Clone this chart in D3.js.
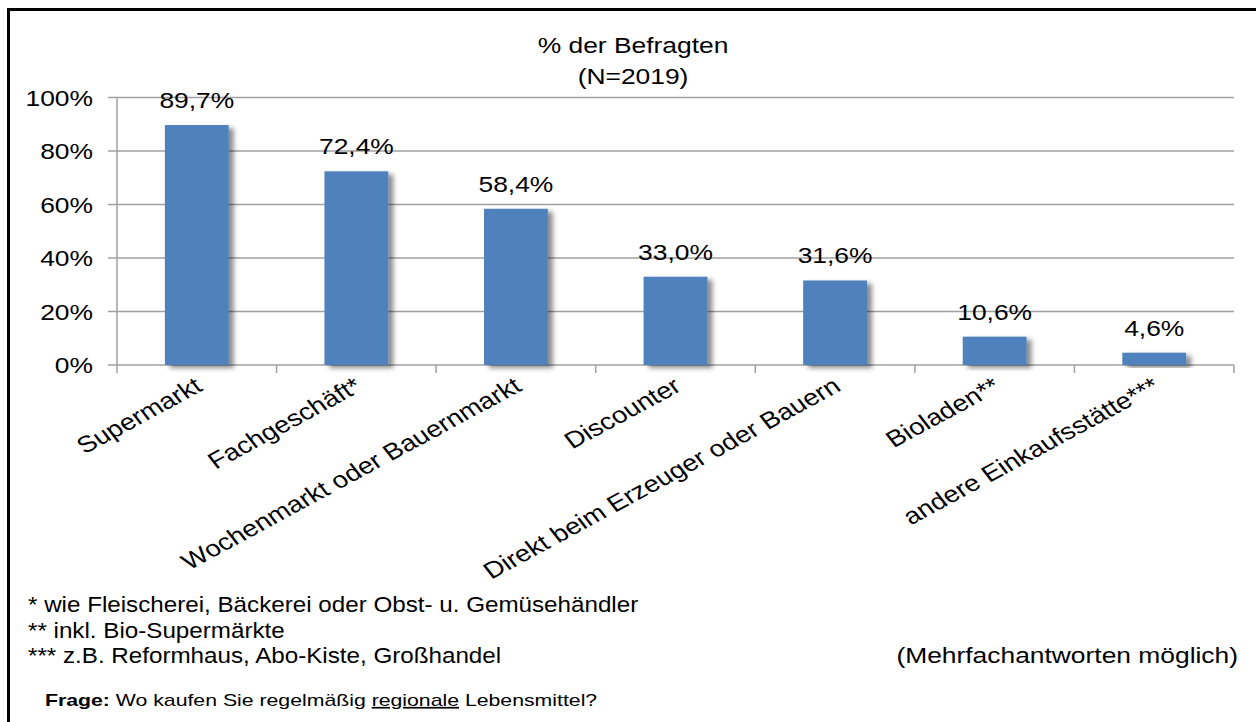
<!DOCTYPE html>
<html>
<head>
<meta charset="utf-8">
<script src="https://cdn.jsdelivr.net/npm/d3@7"></script>
<style>
  body { margin: 0; background: #fff; }
  text { font-family: "Liberation Sans", Arial, sans-serif; fill: #000; }
</style>
</head>
<body>
<div id="chart"></div>
<script>
var categories = ["Supermarkt", "Fachgeschäft*", "Wochenmarkt oder Bauernmarkt", "Discounter",
                  "Direkt beim Erzeuger oder Bauern", "Bioladen**", "andere Einkaufsstätte***"];
var values = [89.7, 72.4, 58.4, 33.0, 31.6, 10.6, 4.6];
var yTicks = [0, 20, 40, 60, 80, 100];
var titleLines = ["% der Befragten", "(N=2019)"];
var footnotes = ["* wie Fleischerei, Bäckerei oder Obst- u. Gemüsehändler",
                 "** inkl. Bio-Supermärkte",
                 "*** z.B. Reformhaus, Abo-Kiste, Großhandel"];

var fw = 1256, fh = 722;
var sx = 1.2; // picture is stretched sideways

var svg = d3.select("#chart").append("svg")
    .attr("width", fw)
    .attr("height", fh);

var defs = svg.append("defs");
var sh = defs.append("filter").attr("id", "shadow")
    .attr("x", "-20%").attr("y", "-20%").attr("width", "150%").attr("height", "140%");
sh.append("feDropShadow")
    .attr("dx", 5).attr("dy", 3)
    .attr("stdDeviation", 2.5)
    .attr("flood-color", "#000")
    .attr("flood-opacity", 0.45);

// frame
svg.append("rect")
    .attr("x", 8.5).attr("y", 9.5)
    .attr("width", 1262).attr("height", 730)
    .attr("fill", "none")
    .attr("stroke", "#000")
    .attr("stroke-width", 3);

var x = d3.scaleBand()
    .domain(categories)
    .range([117, 1234])
    .paddingInner(0.6)
    .paddingOuter(0.3);

var y = d3.scaleLinear()
    .domain([0, 100])
    .range([365, 97.5]);

var de = d3.formatLocale({ decimal: ",", thousands: ".", grouping: [3], currency: ["", "€"] });
var fmt = de.format(".1f");

function stext(px, py, str, size, anchor, kx) {
  return svg.append("text")
      .attr("transform", "translate(" + px + "," + py + ") scale(" + (kx || sx) + ",1)")
      .attr("text-anchor", anchor || "start")
      .style("font-size", size + "px")
      .text(str);
}

// gridlines
svg.append("g").selectAll("line")
    .data(yTicks)
    .enter().append("line")
    .attr("x1", 108).attr("x2", 1234)
    .attr("y1", function(d) { return y(d); })
    .attr("y2", function(d) { return y(d); })
    .attr("stroke", "#a0a0a0")
    .attr("stroke-width", 1.5);

// y axis line
svg.append("line")
    .attr("x1", 117).attr("x2", 117)
    .attr("y1", y(100)).attr("y2", y(0))
    .attr("stroke", "#a0a0a0")
    .attr("stroke-width", 1.5);

// x ticks at category borders
var borders = categories.map(function(c) { return x(c) - x.step() * x.paddingOuter(); });
borders.push(1234);
svg.append("g").selectAll("line")
    .data(borders)
    .enter().append("line")
    .attr("x1", function(d) { return d; })
    .attr("x2", function(d) { return d; })
    .attr("y1", y(0)).attr("y2", y(0) + 8)
    .attr("stroke", "#a0a0a0")
    .attr("stroke-width", 1.5);

// y tick labels
yTicks.forEach(function(t) {
  stext(93, y(t) + 8, t + "%", 22, "end");
});

// bars
svg.append("g").selectAll("rect")
    .data(values)
    .enter().append("rect")
    .attr("x", function(d, i) { return x(categories[i]); })
    .attr("y", function(d) { return y(d); })
    .attr("width", x.bandwidth())
    .attr("height", function(d) { return y(0) - y(d); })
    .attr("fill", "#4f81bd")
    .attr("filter", "url(#shadow)");

// value labels
values.forEach(function(v, i) {
  stext(x(categories[i]) + x.bandwidth() / 2, y(v) - 17, fmt(v) + "%", 22, "middle");
});

// category labels, rotated
categories.forEach(function(c) {
  var cx = x(c) + x.bandwidth() / 2;
  svg.append("text")
      .attr("transform", "translate(" + (cx + 2) + ",383) scale(" + sx + ",1) rotate(-33)")
      .attr("text-anchor", "end")
      .attr("dy", "0.35em")
      .style("font-size", "23px")
      .text(c);
});

// title
titleLines.forEach(function(t, i) {
  stext(633, 53 + i * 31, t, 22, "middle");
});

// footnotes
footnotes.forEach(function(f, i) {
  stext(28, 612 + i * 25.5, f, 22, "start", 1.1);
});
stext(1238, 663, "(Mehrfachantworten möglich)", 22, "end");

// question
var q = svg.append("text")
    .attr("transform", "translate(45,706) scale(1.25,1)")
    .style("font-size", "17px");
q.append("tspan").style("font-weight", "bold").text("Frage:");
q.append("tspan").text(" Wo kaufen Sie regelmäßig ");
q.append("tspan").style("text-decoration", "underline").text("regionale");
q.append("tspan").text(" Lebensmittel?");
</script>
</body>
</html>
